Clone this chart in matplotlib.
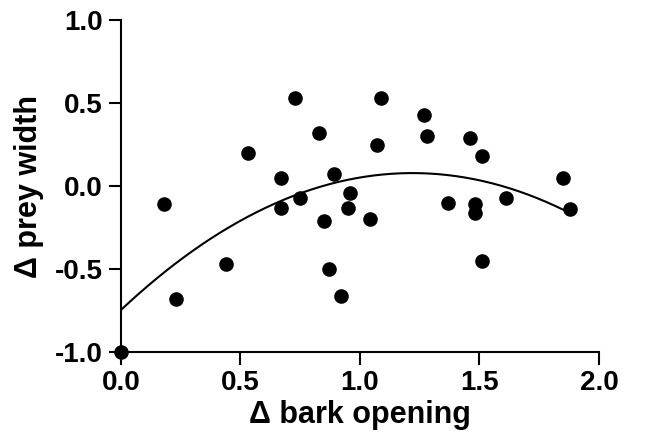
import numpy as np
import matplotlib
matplotlib.use("Agg")
from matplotlib import pyplot as plt

# Data
bark_opening = [0.00, 0.18, 0.23, 0.44, 0.53, 0.67, 0.67, 0.73, 0.75, 0.83,
                0.85, 0.87, 0.89, 0.92, 0.95, 0.96, 1.04, 1.07, 1.09, 1.27,
                1.28, 1.37, 1.46, 1.48, 1.48, 1.51, 1.51, 1.61, 1.85, 1.88]
prey_width = [-1.00, -0.11, -0.68, -0.47, 0.20, 0.05, -0.13, 0.53, -0.07, 0.32,
              -0.21, -0.50, 0.07, -0.66, -0.13, -0.04, -0.20, 0.25, 0.53, 0.43,
              0.30, -0.10, 0.29, -0.11, -0.16, 0.18, -0.45, -0.07, 0.05, -0.14]

plt.close("all")
plt.rcParams['font.family'] = ['Liberation Sans', 'DejaVu Sans']
plt.rcParams['font.weight'] = 'bold'

fig = plt.figure(figsize=(6.45, 4.37), dpi=100)
ax = fig.add_axes([0.1876, 0.1945, 0.741, 0.7595])

x = np.array(bark_opening)
y = np.array(prey_width)

# second order polynomial fit
coef = np.polyfit(x, y, 2)
xs = np.linspace(x.min(), x.max(), 200)
ax.plot(xs, np.polyval(coef, xs), color='black', lw=1.5)

ax.scatter(x, y, s=90, color='black', zorder=3, clip_on=False)

ax.set_xlim(0, 2.0)
ax.set_ylim(-1.0, 1.0)
ax.set_xticks([0.0, 0.5, 1.0, 1.5, 2.0])
ax.set_yticks([-1.0, -0.5, 0.0, 0.5, 1.0])
ax.set_xticklabels(['0.0', '0.5', '1.0', '1.5', '2.0'])
ax.set_yticklabels(['-1.0', '-0.5', '0.0', '0.5', '1.0'])
ax.tick_params(labelsize=20, width=1.5, length=9, pad=4)
for s in ['top', 'right']:
    ax.spines[s].set_visible(False)
for s in ['left', 'bottom']:
    ax.spines[s].set_linewidth(1.5)

ax.set_xlabel('Δ bark opening', fontsize=22, fontweight='bold', labelpad=3)
ax.set_ylabel('Δ prey width', fontsize=22, fontweight='bold', labelpad=8)

fig.savefig('out.png', dpi=100)
